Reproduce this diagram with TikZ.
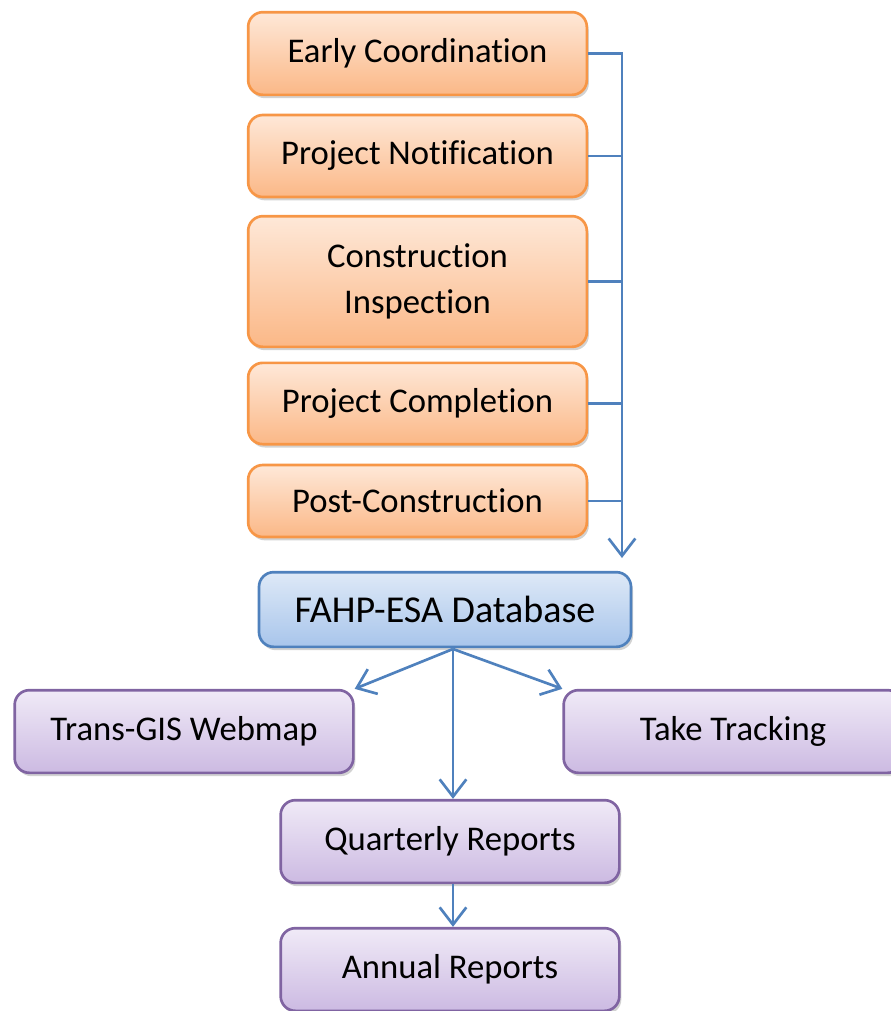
\documentclass[tikz,border=0pt]{standalone}
\usepackage{fontspec}
\setmainfont{Carlito}[Ligatures=NoCommon]
\usetikzlibrary{arrows.meta,shadows}

\definecolor{stageedge}{HTML}{F79646}
\definecolor{stagetop}{HTML}{FEE8D8}
\definecolor{stagebot}{HTML}{FBB887}
\definecolor{dbedge}{HTML}{4F81BD}
\definecolor{dbtop}{HTML}{DEE9F7}
\definecolor{dbbot}{HTML}{A8C5EB}
\definecolor{outedge}{HTML}{8064A2}
\definecolor{outtop}{HTML}{F0EAF7}
\definecolor{outbot}{HTML}{CCBAE2}
\definecolor{linkblue}{HTML}{4F81BD}

\begin{document}
\begin{tikzpicture}[x=0.75pt,y=-0.75pt,
    box/.style={rounded corners=11pt, line width=2pt, align=center,
        drop shadow={shadow xshift=1.5pt, shadow yshift=-2.5pt, opacity=0.25, fill=black!70},
        font=\fontsize{26}{35}\selectfont},
    stage/.style={box, draw=stageedge, top color=stagetop, bottom color=stagebot,
        minimum width=254pt},
    database/.style={box, draw=dbedge, top color=dbtop, bottom color=dbbot,
        minimum width=279pt, minimum height=56pt, font=\fontsize{28.5}{34}\selectfont},
    output/.style={box, draw=outedge, top color=outtop, bottom color=outbot,
        minimum width=254pt, minimum height=62pt},
    link/.style={draw=linkblue, line width=2pt},
    tip/.style={-{Straight Barb[length=13pt,width=20pt,line width=2pt]}},
]
\useasboundingbox (0,0) rectangle (891,1011);

% project stages
\node[stage, minimum height=62pt] (early) at (417.5,53.5) {Early Coordination};
\node[stage, minimum height=61.5pt] (notify) at (417.5,156) {Project Notification};
\node[stage, minimum height=98pt] (inspect) at (417.5,281.5) {Construction\\Inspection};
\node[stage, minimum height=61pt] (complete) at (417.5,403.5) {Project Completion};
\node[stage, minimum height=54pt] (post) at (417.5,501) {Post-Construction};

% database and its outputs
\node[database] (db) at (445,609.5) {FAHP-ESA Database};
\node[output] (webmap) at (184,731.5) {Trans-GIS Webmap};
\node[output] (take) at (733,731.5) {Take Tracking};
\node[output] (quarterly) at (450,841.5) {Quarterly Reports};
\node[output] (annual) at (450,969.5) {Annual Reports};

% collector line on the right
\coordinate (busend) at (622,558);
\coordinate (fork) at (453,649);
\draw[link, tip] (early.east) -| (busend);
\foreach \s in {notify, inspect, complete, post}
    \draw[link] (\s.east) -- (\s.east -| busend);

% distribution from the database
\draw[link, tip] (fork) -- (webmap.north east);
\draw[link, tip] (fork) -- (take.north west);
\draw[link, tip] (fork) -- (fork |- quarterly.north);
\draw[link, tip] (quarterly.south -| fork) -- (annual.north -| fork);
\end{tikzpicture}
\end{document}
